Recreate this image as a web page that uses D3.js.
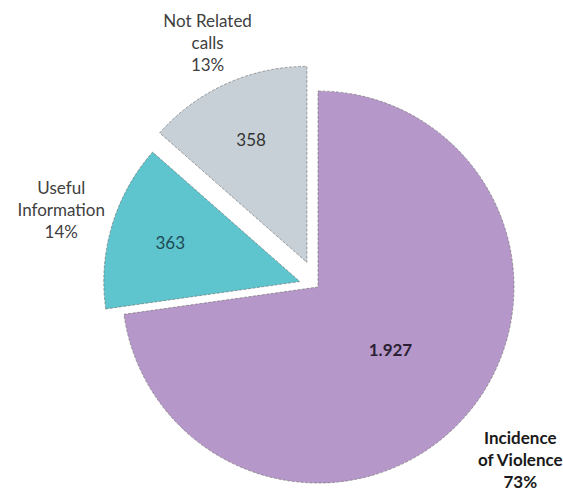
<!DOCTYPE html>
<html>
<head>
<meta charset="utf-8">
<script src="https://cdn.jsdelivr.net/npm/d3@7"></script>
<style>
html,body{margin:0;padding:0;background:#fff;}
svg{display:block;font-family:Lato,"Open Sans",sans-serif;}
</style>
</head>
<body>
<svg id="chart" width="563" height="494"></svg>
<script>
const categories = ["Incidence of Violence", "Useful Information", "Not Related calls"];
const values = [1927, 363, 358];
const valueLabels = ["1.927", "363", "358"];
const percentLabels = ["73%", "14%", "13%"];
const labelLines = [["Incidence", "of Violence"], ["Useful", "Information"], ["Not Related", "calls"]];
const colors = ["#b697c9", "#5ec4cd", "#c8d0d7"];
const explode = [0, 19, 27];

const svg = d3.select("#chart");
const cx = 318, cy = 287, r = 196;
const g = svg.append("g").attr("transform", `translate(${cx},${cy})`);

const pie = d3.pie().sort(null).value(d => d)(values);
const arc = d3.arc().innerRadius(0).outerRadius(r);

function dir(d) {
  const a = (d.startAngle + d.endAngle) / 2;
  return [Math.sin(a), -Math.cos(a)];
}
function valR(d, i) {
  return (d.endAngle - d.startAngle) > Math.PI ? 0.49 * r : 0.69 * r + explode[i];
}

g.selectAll("path.slice").data(pie).join("path")
  .attr("class", "slice")
  .attr("transform", (d, i) => { const [x, y] = dir(d); return `translate(${x * explode[i]},${y * explode[i]})`; })
  .attr("d", arc)
  .attr("fill", (d, i) => colors[i])
  .attr("stroke", "#6a6a6a")
  .attr("stroke-width", 0.6)
  .attr("stroke-dasharray", "3,1.5");

// value labels inside slices
g.selectAll("text.val").data(pie).join("text")
  .attr("class", "val")
  .attr("x", (d, i) => dir(d)[0] * valR(d, i))
  .attr("y", (d, i) => dir(d)[1] * valR(d, i))
  .attr("text-anchor", "middle")
  .attr("dominant-baseline", "central")
  .attr("font-size", 17)
  .attr("font-weight", (d, i) => i === 0 ? "bold" : "normal")
  .attr("fill", (d, i) => i === 1 ? "#1d4a55" : (i === 0 ? "#2a1f33" : "#333"))
  .text((d, i) => valueLabels[i]);

// outside category labels
const lh = 22;
const lab = g.selectAll("g.lab").data(pie).join("g")
  .attr("class", "lab")
  .attr("transform", (d, i) => { const [x, y] = dir(d); return `translate(${x * 268},${y * 268})`; });
lab.each(function(d, i) {
  const lines = labelLines[i].concat([percentLabels[i]]);
  const t = d3.select(this).append("text")
    .attr("text-anchor", "middle")
    .attr("font-size", 17)
    .attr("font-weight", i === 0 ? "bold" : "normal")
    .attr("fill", i === 0 ? "#1a1a1a" : "#404040");
  lines.forEach((s, k) => {
    t.append("tspan").attr("x", 0).attr("y", (k - 1) * lh + (i === 0 ? 3 : 6)).text(s);
  });
});
</script>
</body>
</html>
